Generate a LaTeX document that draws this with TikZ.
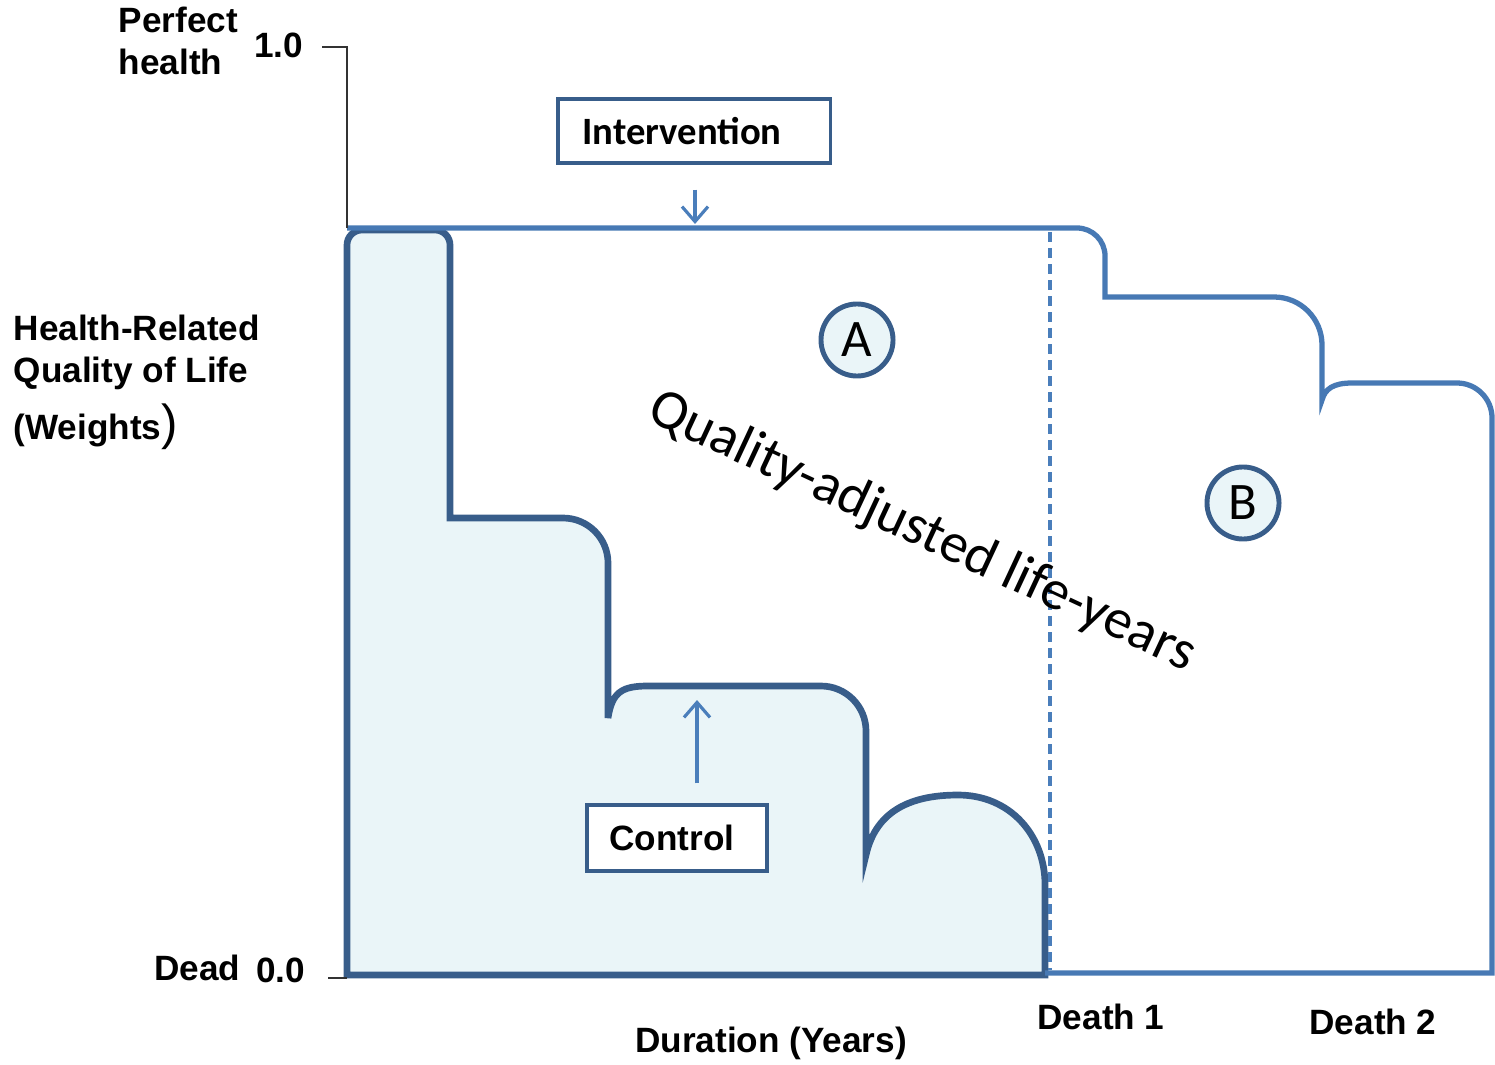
\documentclass[tikz,border=0pt]{standalone}
\usepackage{fontspec}
\setmainfont{Liberation Sans}
\newfontfamily\calibrifont{Carlito}
\usetikzlibrary{arrows.meta}
\tikzset{>={Straight Barb[width=2.6mm,length=1.5mm]}}
\definecolor{lineblue}{RGB}{74,126,187}
\definecolor{darkblue}{RGB}{56,93,138}
\definecolor{paleblue}{RGB}{234,245,248}

\begin{document}
\begin{tikzpicture}[x=0.01cm, y=-0.01cm, label/.style={font=\bfseries, inner sep=0pt}, box/.style={draw=darkblue, line width=0.9pt, fill=white, inner sep=0pt}, circ/.style={circle, draw=darkblue, line width=1.4pt, fill=paleblue, minimum size=7.2mm, inner sep=0pt, font=\calibrifont\fontsize{15}{15}\selectfont}, controlline/.style={draw=darkblue, line width=1.9pt, fill=paleblue}, interline/.style={draw=lineblue!85!darkblue, line width=1.5pt}]

    \useasboundingbox (0,0) rectangle (1495,1064);

    %Curves
    \path[controlline] (347,975) [rounded corners=1.5mm] -- (347,230) -- (450,230) [sharp corners] -- (450,518) [rounded corners=4.5mm] -- (608,518) [sharp corners] -- (608,718) .. controls (612,692) and (622,686) .. (648,686) [rounded corners=4.5mm] -- (866,686) [sharp corners] -- (866,855) .. controls (876,810) and (912,795) .. (958,795) .. controls (1010,795) and (1045,835) .. (1045,885) -- (1045,975) -- cycle;
    \draw[interline] (347,228) [rounded corners=2.8mm] -- (1105,228) [sharp corners] -- (1105,297) [rounded corners=4.8mm] -- (1322,297) [sharp corners] -- (1322,400) .. controls (1325,389) and (1333,383) .. (1352,383) [rounded corners=3.5mm] -- (1492,383) [sharp corners] -- (1492,973) -- (1045,973);
    \draw[lineblue, line width=0.9pt, dash pattern=on 1mm off 0.6mm] (1050,232) -- (1050,970);

    %Axis
    \draw[black!80, line width=0.5pt] (322,47) -- (347,47) -- (347,228);
    \draw[black!80, line width=0.5pt] (328,978) -- (347,978);

    %Nodes
    \node[label, align=left, anchor=north west] (perfect) at (118,6) {Perfect\\health};
    \node[label, anchor=east] (one) at (304,45) {1.0};
    \node[label, align=left, anchor=north west] (hrqol) at (13,314) {Health-Related\\Quality of Life\\[3pt](Weights{\mdseries\fontsize{14}{14}\selectfont)}};
    \node[label, anchor=east] (dead) at (241,968) {Dead};
    \node[label, anchor=east] (zero) at (306,970) {0.0};
    \node[label] (duration) at (771,1043) {Duration (Years)};
    \node[label] (death1) at (1101,1017) {Death 1};
    \node[label] (death2) at (1373,1022) {Death 2};
    \node[box, minimum width=2.72cm, minimum height=6.4mm, font=\calibrifont\bfseries\fontsize{11}{13}\selectfont] (intervention) at (694,131) {Intervention\hspace*{2.4mm}};
    \node[box, minimum width=1.8cm, minimum height=6.6mm, font=\bfseries] (control) at (677,838) {Control\hspace*{1mm}};
    \node[circ] (areaA) at (857,340) {A};
    \node[circ] (areaB) at (1243,503) {B};
    \node[font=\calibrifont\fontsize{16}{16}\selectfont, rotate=-25] (qaly) at (922,532) {Quality-adjusted life-years};
    \coordinate (itop) at (695,224);
    \coordinate (ctop) at (697,700);

    %Lines
    \draw[->, lineblue, line width=0.9pt, shorten <=2.5mm] (intervention.south -| itop) -- (itop);
    \draw[->, lineblue, line width=0.9pt, shorten <=2mm] (control.north -| ctop) -- (ctop);

\end{tikzpicture}
\end{document}
